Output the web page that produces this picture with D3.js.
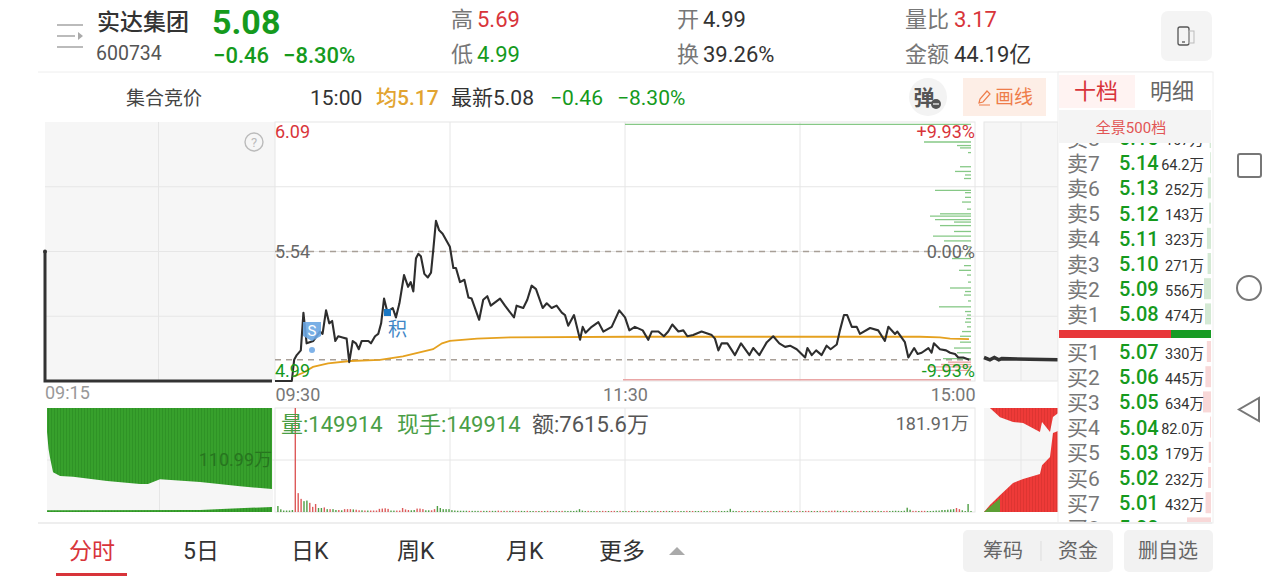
<!DOCTYPE html>
<html>
<head>
  <meta charset="utf-8">
  <title>实达集团 分时</title>
  <script src="https://d3js.org/d3.v7.min.js"></script>
  <style>
    html, body { margin: 0; padding: 0; background: #fff; overflow: hidden; }
    svg { display: block; }
    text { font-family: Roboto, "Noto Sans CJK SC", sans-serif; }
  </style>
</head>
<body>
<script>
// intraday price, minutes after 09:30
var priceMinutes = [0,5.8,6.6,7.5,8.9,9.8,10.9,13.2,15.5,16.4,17.6,18.7,19.7,20.8,21.8,23.3,24.7,25.6,26.8,27.9,28.9,29.9,32.2,33.1,34.5,35.6,36.6,37.6,38.7,40.6,41.7,42.9,44.5,45.9,46.8,47.7,48.6,49.4,50.3,51.5,52.7,53.8,54.6,55.5,56.6,57.8,60.3,61.5,62.4,63.8,65.3,66.7,67.8,70.4,71.8,73.2,74.4,77.6,79.3,82.4,83.3,85.6,87,88.5,90,92.3,93.7,95.4,97.1,98.9,100,101.1,103.1,105.2,106.1,107.1,109.2,111.5,113.2,116.1,118.7,120.7,122.2,124.1,126.8,128.7,129.9,132.2,134.1,135.6,137,139.1,140.8,142.2,144.2,147.1,150.6,151.7,152.9,154,156,158.6,160.7,163.6,164.9,167,169.6,171.8,173.9,175.9,177.6,179.9,182.8,183.6,185.1,186.6,188.5,190.2,191.6,193.7,194.8,196.2,197.3,198.9,200.6,201.7,205.2,208,210.3,211.5,213.8,214.6,217.2,218.4,220.4,221.6,223,225.3,226.4,227.2,229.3,231.4,232.8,234.5,235.6,237.3,239.4];
var prices = [4.99,4.99,5.08,5.10,5.12,5.28,5.15,5.16,5.20,5.19,5.29,5.235,5.245,5.16,5.18,5.175,5.17,5.07,5.16,5.15,5.125,5.16,5.16,5.15,5.18,5.19,5.235,5.34,5.285,5.30,5.26,5.32,5.44,5.39,5.41,5.37,5.51,5.53,5.52,5.445,5.43,5.45,5.55,5.67,5.63,5.615,5.56,5.47,5.47,5.41,5.42,5.345,5.34,5.25,5.335,5.35,5.31,5.34,5.31,5.26,5.31,5.30,5.335,5.395,5.38,5.30,5.32,5.30,5.31,5.28,5.27,5.225,5.27,5.165,5.22,5.195,5.22,5.24,5.20,5.22,5.29,5.26,5.205,5.22,5.205,5.165,5.20,5.20,5.18,5.20,5.23,5.20,5.205,5.18,5.185,5.20,5.185,5.17,5.12,5.15,5.15,5.10,5.15,5.10,5.13,5.10,5.155,5.18,5.15,5.135,5.14,5.125,5.09,5.13,5.10,5.12,5.10,5.14,5.125,5.145,5.205,5.27,5.27,5.22,5.22,5.19,5.215,5.205,5.16,5.22,5.19,5.20,5.155,5.09,5.13,5.105,5.11,5.13,5.11,5.15,5.125,5.12,5.11,5.105,5.09,5.09,5.08];

var avgMinutes = [6.6,9.7,13.1,18.3,25.9,36.2,44.1,54.5,57.6,60.3,69.7,81,122.4,164.8,222.4,229.3,232.8,239.3];
var avgPrices = [5.01,5.025,5.05,5.065,5.075,5.08,5.095,5.125,5.15,5.16,5.17,5.175,5.178,5.178,5.178,5.175,5.17,5.168];

// per minute volume in 万, positive is red, negative is green
var volumes = [
  -10.5,-4.7,-2.6,-2.6,-2.6,-3.5,181.91,33,23,-19,-20,16,9,14,-7,-7,8,-5,5,-5,
  -3.5,3.5,-3,5,5,5,-4.5,4,3,-3,2.6,-2.6,2.6,2.6,2.6,5.5,6,6.5,5.5,-2.6,
  -2.5,2.5,2.5,7,4.5,3.5,-3,-3.5,6,6,5,-3,-3,3,5,-10.5,-7,-5,-5,-5,
  -3.2,-2.6,-2.2,-2.2,-2.2,-2.2,2,-2,-2,-2,2,-2,-2,2,-2,-2,2.4,2,-2,2,
  -2,-2,2,2,-2,-1.8,2,-1.8,-1.8,1.8,-1.8,1.8,-1.8,2,-1.8,-1.8,2,-1.8,2,-2,
  -1.8,-2,-1.8,-2.4,-5,-2.4,-1.8,2,-1.8,-1.8,1.8,-1.8,2,1.8,-1.8,1.8,2,-1.8,2,-1.8,
  -1.8,1.8,-1.8,-1.8,2,-1.8,-1.8,1.8,-2,-1.8,2,-1.8,1.8,-1.8,2,-1.8,-1.8,2,1.8,-1.8,
  -1.8,2,-1.8,1.8,-1.8,-1.8,2,-1.8,-1.8,1.8,-1.8,-1.8,2,-1.8,-1.8,-2,-5.5,-2,-1.8,1.8,
  -1.8,1.8,-1.8,-1.8,2,-1.8,2,-1.8,1.8,-1.8,2,-1.8,-1.8,2,1.8,-1.8,2,-1.8,1.8,-1.8,
  1.8,-1.8,2,2,-1.8,1.8,-1.8,2,1.8,-1.8,2,2.2,2.4,-2.2,-1.8,2.2,2,-1.8,2,-1.8,
  1.8,2,-1.8,1.8,-1.8,2,-1.8,2,-1.8,1.8,2,-1.8,-2,-2.2,-2,-1.8,-2.2,-7.5,-4,2,
  2,-1.8,2,2,-1.8,-1.8,-2,-2.5,-2.5,-3.5,-3.5,-4,-4.5,-5,7,5,-3,-1.8,-14,-1.8
];

// traded volume by price level on the right edge of the chart
var profilePrices = [6.08,6.005,5.99,5.98,5.96,5.90,5.88,5.865,5.85,5.80,5.79,5.77,5.75,5.72,5.70,5.69,5.675,5.665,5.65,5.625,5.605,5.585,5.56,5.53,5.51,5.48,5.46,5.44,5.41,5.385,5.37,5.355,5.33,5.305,5.285,5.27,5.255,5.24,5.22,5.20,5.18,5.155,5.13,5.11,5.085];
var profileVolumes = [346,47,14,11,3,11,16,6,7,36,6,6,9,4,31,41,36,17,31,17,38,27,3,5,19,7,12,4,3,21,6,7,3,32,6,4,5,6,4,9,11,11,17,14,28];
var profileRedPrices = [5.07,5.06,5.05,5.035,4.995];
var profileRedVolumes = [23,30,42,35,348];

// call auction 09:15 - 09:25
var auctionMinutes = [0,0,10];
var auctionPrices = [5.54,4.99,4.99];
var auctionVolMinutes = [0,0.07,0.13,0.27,0.58,1.16,2.67,4.13,4.49,5.02,6.8,8.58,10];
var auctionUnmatched = [171,134,117,85,77,75,66,60,60,70,64,55,49];
var auctionMatchedMinutes = [0,6.8,8,10];
var auctionMatched = [4,4.5,7,10.7];

// closing auction panel
var closeMinutes = [0,0.4,0.7,1,1.2,5];
var closePrices = [5.09,5.08,5.09,5.08,5.085,5.08];
var closeVolMinutes = [0,0.4,1.08,1.96,2.64,3.78,3.92,4.46,4.66,5];
var closeUpper = [100,100,91,86.5,85.5,77,86.5,77,91.3,95];
var closeLower = [0,6.7,16,28,31.7,36.5,45,53,76,78];
var closeGreenMinutes = [0,0.4,1.08];
var closeGreen = [0,5,13];

// order book
var sellNames = ["卖8","卖7","卖6","卖5","卖4","卖3","卖2","卖1"];
var sellPrices = ["5.15","5.14","5.13","5.12","5.11","5.10","5.09","5.08"];
var sellVolumes = [107,64.2,252,143,323,271,556,474];
var buyNames = ["买1","买2","买3","买4","买5","买6","买7","买8"];
var buyPrices = ["5.07","5.06","5.05","5.04","5.03","5.02","5.01","5.00"];
var buyVolumes = [330,445,634,82,179,232,432,1900];
var buyLabels = ["330万","445万","634万","82.0万","179万","232万","432万",""];
var sellLabels = ["107万","64.2万","252万","143万","323万","271万","556万","474万"];

var timeTicks = [0,120,240];
var timeLabels = ["09:30","11:30","15:00"];
var priceTicks = [4.99,5.54,6.09];
var percentTicks = [-9.93,0,9.93];
var tabNames = ["分时","5日","日K","周K","月K","更多"];

var RED = "#d8343a", GREEN = "#159a1d", GREY = "#777", DARK = "#333", GRID = "#e6e6e6";

var svg = d3.select("body").append("svg").attr("width", 1280).attr("height", 576);

function label(s, x, y, size, fill, opts) {
  opts = opts || {};
  return svg.append("text").text(s).attr("x", x).attr("y", y)
    .attr("font-size", size).attr("fill", fill)
    .attr("text-anchor", opts.anchor || "start")
    .attr("font-weight", opts.weight || 400);
}

// scales
var gridX = d3.scaleLinear().domain([0,240]).range([275,975]);
var lineX = d3.scaleLinear().domain([0,240]).range([275,971]);
var priceY = d3.scaleLinear().domain([4.99,6.09]).range([381,122]);
var percentY = d3.scaleLinear().domain([-9.93,9.93]).range([381,122]);
var volumeY = d3.scaleLinear().domain([0,181.91]).range([512,408]);
var profileX = d3.scaleLinear().domain([0,348]).range([971,623]);
var auctionX = d3.scaleLinear().domain([0,10]).range([45,272]);
var auctionVolX = d3.scaleLinear().domain([0,10]).range([47,272]);
var auctionVolY = d3.scaleLinear().domain([0,221.98]).range([512,408]);
var closeX = d3.scaleLinear().domain([0,5]).range([984,1058]);
var closeVolY = d3.scaleLinear().domain([0,100]).range([512,408]);
var bookW = d3.scaleLinear().domain([0,634]).range([0,8]);

// striped fills for the auction columns
var defs = svg.append("defs");
[["stripeGreen","#37a02c","#2d9024"],["stripeRed","#ee3a38","#d93330"]].forEach(function(p) {
  var pat = defs.append("pattern").attr("id", p[0]).attr("width", 3).attr("height", 10)
    .attr("patternUnits", "userSpaceOnUse");
  pat.append("rect").attr("width", 3).attr("height", 10).attr("fill", p[1]);
  pat.append("rect").attr("width", 0.8).attr("height", 10).attr("fill", p[2]);
});

// panels
var panels = [[45,122,230,259],[984,122,74,259],[47,408,226,104],[984,408,74,104]];
svg.selectAll("rect.panel").data(panels).enter().append("rect")
  .attr("class", "panel")
  .attr("x", function(d){ return d[0]; }).attr("y", function(d){ return d[1]; })
  .attr("width", function(d){ return d[2]; }).attr("height", function(d){ return d[3]; })
  .attr("fill", "#f6f6f6");
svg.append("rect").attr("x", 275).attr("y", 122).attr("width", 700).attr("height", 259)
  .attr("fill", "#fff").attr("stroke", GRID);
svg.append("rect").attr("x", 275).attr("y", 408).attr("width", 700).attr("height", 104)
  .attr("fill", "#fff").attr("stroke", GRID);

// grid
var gridG = svg.append("g").attr("stroke", GRID).attr("stroke-width", 1);
[5.815,5.54,5.265].forEach(function(p) {
  gridG.append("line").attr("x1", 45).attr("x2", 1058).attr("y1", priceY(p)).attr("y2", priceY(p));
});
gridG.append("line").attr("x1", 47).attr("x2", 1058).attr("y1", 460).attr("y2", 460);
[60,120,180].forEach(function(m) {
  gridG.append("line").attr("x1", gridX(m)).attr("x2", gridX(m)).attr("y1", 122).attr("y2", 381);
  gridG.append("line").attr("x1", gridX(m)).attr("x2", gridX(m)).attr("y1", 408).attr("y2", 512);
});
[[auctionX(5),122,381],[auctionVolX(5),408,512],[closeX(2.5),122,381],[closeX(2.5),408,512]].forEach(function(d) {
  gridG.append("line").attr("x1", d[0]).attr("x2", d[0]).attr("y1", d[1]).attr("y2", d[2]);
});
gridG.append("rect").attr("x", 984).attr("y", 122).attr("width", 74).attr("height", 259).attr("fill", "none");

// dashed reference lines, previous close and latest price
[[5.54],[5.08]].forEach(function(d) {
  svg.append("line").attr("x1", 275).attr("x2", 971)
    .attr("y1", priceY(d[0])).attr("y2", priceY(d[0]))
    .attr("stroke", "#a89f97").attr("stroke-width", 1.5).attr("stroke-dasharray", "6 5");
});

// volume by price
svg.append("g").selectAll("line").data(d3.zip(profilePrices, profileVolumes)).enter().append("line")
  .attr("x1", function(d){ return profileX(d[1]); }).attr("x2", profileX(0))
  .attr("y1", function(d){ return priceY(d[0]); }).attr("y2", function(d){ return priceY(d[0]); })
  .attr("stroke", "#86c886").attr("stroke-width", 1.3);
svg.append("g").selectAll("line").data(d3.zip(profileRedPrices, profileRedVolumes)).enter().append("line")
  .attr("x1", function(d){ return profileX(d[1]); }).attr("x2", profileX(0))
  .attr("y1", function(d){ return priceY(d[0]); }).attr("y2", function(d){ return priceY(d[0]); })
  .attr("stroke", "#eaa6a6").attr("stroke-width", 1.4);

// price and average lines
var priceLine = d3.line().x(function(d){ return lineX(d[0]); }).y(function(d){ return priceY(d[1]); });
svg.append("path").datum(d3.zip(avgMinutes, avgPrices)).attr("d", priceLine)
  .attr("fill", "none").attr("stroke", "#e5a11f").attr("stroke-width", 1.8);
svg.append("path").datum(d3.zip(priceMinutes, prices)).attr("d", priceLine)
  .attr("fill", "none").attr("stroke", "#2e2e2e").attr("stroke-width", 2.1)
  .attr("stroke-linejoin", "round");

// call auction lines
var auctionLine = d3.line().x(function(d){ return auctionX(d[0]); }).y(function(d){ return priceY(d[1]); });
svg.append("path").datum(d3.zip(auctionMinutes, auctionPrices)).attr("d", auctionLine)
  .attr("fill", "none").attr("stroke", "#333").attr("stroke-width", 3);
svg.append("circle").attr("cx", auctionX(0)).attr("cy", priceY(5.54)).attr("r", 2).attr("fill", "#333");
var closeLine = d3.line().x(function(d){ return closeX(d[0]); }).y(function(d){ return priceY(d[1]); });
svg.append("path").datum(d3.zip(closeMinutes, closePrices)).attr("d", closeLine)
  .attr("fill", "none").attr("stroke", "#333").attr("stroke-width", 3.6);

// volume bars
svg.append("g").selectAll("rect").data(volumes).enter().append("rect")
  .attr("x", function(d,i){ return lineX(i + 1) - 0.7; })
  .attr("width", 1.4)
  .attr("y", function(d){ return volumeY(Math.abs(d)); })
  .attr("height", function(d){ return volumeY(0) - volumeY(Math.abs(d)); })
  .attr("fill", function(d){ return d > 0 ? "#dd5a5a" : "#4f9e45"; });

// call auction volume
var auctionTop = d3.area()
  .x(function(d){ return auctionVolX(d[0]); })
  .y0(408).y1(function(d){ return auctionVolY(d[1]); });
svg.append("path").datum(d3.zip(auctionVolMinutes, auctionUnmatched)).attr("d", auctionTop)
  .attr("fill", "url(#stripeGreen)");
var auctionBottom = d3.area()
  .x(function(d){ return auctionVolX(d[0]); })
  .y0(512).y1(function(d){ return auctionVolY(d[1]); });
svg.append("path").datum(d3.zip(auctionMatchedMinutes, auctionMatched)).attr("d", auctionBottom)
  .attr("fill", "url(#stripeGreen)");

var closeTop = d3.area().x(function(d){ return closeX(d[0]); }).y0(408).y1(function(d){ return closeVolY(d[1]); });
var closeBottom = d3.area().x(function(d){ return closeX(d[0]); }).y0(512).y1(function(d){ return closeVolY(d[1]); });
svg.append("path").datum(d3.zip(closeVolMinutes, closeUpper)).attr("d", closeTop).attr("fill", "url(#stripeRed)");
svg.append("path").datum(d3.zip(closeVolMinutes, closeLower)).attr("d", closeBottom).attr("fill", "url(#stripeRed)");
svg.append("path").datum(d3.zip(closeGreenMinutes, closeGreen)).attr("d", closeBottom).attr("fill", "#5c9e35");

// axes
var timeAxis = d3.axisBottom(gridX).tickValues(timeTicks).tickSize(0)
  .tickFormat(function(d,i){ return timeLabels[i]; });
var timeG = svg.append("g").attr("transform", "translate(0,381)").call(timeAxis);
timeG.select(".domain").remove();
timeG.selectAll("text").attr("font-size", 18).attr("fill", GREY).attr("dy", 17)
  .attr("font-family", "Roboto")
  .attr("text-anchor", function(d,i){ return ["start","middle","end"][i]; });
label("09:15", 45, 399, 18, "#999");

var priceAxis = d3.axisRight(priceY).tickValues(priceTicks).tickSize(0)
  .tickFormat(function(d){ return d.toFixed(2); });
var priceG = svg.append("g").attr("transform", "translate(272,0)").call(priceAxis);
priceG.select(".domain").remove();
priceG.selectAll("text").attr("font-size", 18).attr("font-family", "Roboto")
  .attr("fill", function(d,i){ return [GREEN,"#666",RED][i]; })
  .attr("dy", function(d,i){ return [-5,6,15][i]; });

var percentAxis = d3.axisLeft(percentY).tickValues(percentTicks).tickSize(0)
  .tickFormat(function(d){ return d > 0 ? "+" + d.toFixed(2) + "%" : d.toFixed(2) + "%"; });
var percentG = svg.append("g").attr("transform", "translate(978,0)").call(percentAxis);
percentG.select(".domain").remove();
percentG.selectAll("text").attr("font-size", 18).attr("font-family", "Roboto")
  .attr("fill", function(d,i){ return [GREEN,"#666",RED][i]; })
  .attr("dy", function(d,i){ return [-5,6,15][i]; });

// signal markers on the chart
svg.append("path").attr("d", "M303 322h18v14l-9 5l-9-5z").attr("fill", "#6aa6e2").attr("opacity", 0.9);
label("S", 312, 336, 15, "#fff", {anchor: "middle"});
svg.append("circle").attr("cx", 312).attr("cy", 350).attr("r", 3).attr("fill", "#7fb2e8");
svg.append("rect").attr("x", 384).attr("y", 309).attr("width", 7).attr("height", 7).attr("fill", "#1a78c4");
label("积", 388, 336, 19, "#3f86c6");

// volume captions
var capGreen = "#4a9e46";
label("量:149914", 281, 432, 22, capGreen);
label("现手:149914", 397, 432, 22, capGreen);
label("额:7615.6万", 532, 432, 22, "#555");
label("181.91万", 969, 430, 18, "#666", {anchor: "end"});
label("110.99万", 272, 466, 18, "#27751f", {anchor: "end"});

// header
svg.append("g").attr("stroke", "#aaa").attr("stroke-width", 1.6).selectAll("line")
  .data([[57,83,25],[57,75,36],[57,83,47]]).enter().append("line")
  .attr("x1", function(d){ return d[0]; }).attr("x2", function(d){ return d[1]; })
  .attr("y1", function(d){ return d[2]; }).attr("y2", function(d){ return d[2]; });
svg.append("path").attr("d", "M78 32l5 4l-5 4z").attr("fill", "#aaa");

label("实达集团", 97, 30, 23, DARK, {weight: 500});
label("600734", 96, 60, 19.5, "#555");
label("5.08", 212, 34, 34, GREEN, {weight: 700});
label("−0.46", 213, 63, 22, GREEN, {weight: 500});
label("−8.30%", 283, 63, 22, GREEN, {weight: 500});

label("高", 451, 27, 22, GREY); label("5.69", 477, 27, 22, RED);
label("低", 451, 62, 22, GREY); label("4.99", 477, 62, 22, GREEN);
label("开", 677, 27, 22, GREY); label("4.99", 703, 27, 22, DARK);
label("换", 677, 62, 22, GREY); label("39.26%", 703, 62, 22, DARK);
label("量比", 905, 27, 22, GREY); label("3.17", 954, 27, 22, RED);
label("金额", 905, 62, 22, GREY); label("44.19亿", 954, 62, 22, DARK);

svg.append("rect").attr("x", 1161).attr("y", 11).attr("width", 51).attr("height", 50).attr("rx", 7).attr("fill", "#f4f4f4");
svg.append("rect").attr("x", 1178).attr("y", 27).attr("width", 11).attr("height", 18).attr("rx", 2)
  .attr("fill", "none").attr("stroke", "#555").attr("stroke-width", 1.3);
svg.append("rect").attr("x", 1189).attr("y", 31).attr("width", 5).attr("height", 12)
  .attr("fill", "none").attr("stroke", "#bbb").attr("stroke-width", 1);
svg.append("line").attr("x1", 1182).attr("x2", 1185).attr("y1", 42).attr("y2", 42).attr("stroke", "#555").attr("stroke-width", 1.3);

svg.append("line").attr("x1", 38).attr("x2", 1212).attr("y1", 72).attr("y2", 72).attr("stroke", "#eee");

label("集合竞价", 126, 105, 19, "#444");
label("15:00", 310, 105, 21, DARK);
label("均5.17", 376, 105, 21, "#e2a431", {weight: 500});
label("最新5.08", 451, 105, 21, DARK);
label("−0.46", 550, 105, 21, GREEN);
label("−8.30%", 617, 105, 21, GREEN);

svg.append("circle").attr("cx", 928).attr("cy", 97).attr("r", 19).attr("fill", "#f3f3f3");
label("弹", 924, 105, 21, "#555", {anchor: "middle", weight: 700});
svg.append("circle").attr("cx", 936).attr("cy", 104).attr("r", 5).attr("fill", "#555");
svg.append("line").attr("x1", 933).attr("x2", 939).attr("y1", 104).attr("y2", 104).attr("stroke", "#fff").attr("stroke-width", 1.2);

svg.append("rect").attr("x", 963).attr("y", 78).attr("width", 83).attr("height", 38).attr("fill", "#fdeee6");
svg.append("path").attr("d", "M979 103l1-4l7-8l3 3l-7 8zM979 105h11").attr("fill", "none").attr("stroke", "#ee7d4a").attr("stroke-width", 1.2);
label("画线", 995, 104, 19, "#ee7d4a");

svg.append("circle").attr("cx", 254).attr("cy", 142).attr("r", 9).attr("fill", "none").attr("stroke", "#bbb").attr("stroke-width", 1.4);
label("?", 254, 147, 13, "#bbb", {anchor: "middle"});

// order book panel
svg.append("rect").attr("x", 1058).attr("y", 72).attr("width", 155).attr("height", 451).attr("fill", "#fff").attr("stroke", "#eee");
svg.append("rect").attr("x", 1059).attr("y", 75).attr("width", 76).attr("height", 33).attr("fill", "#fff3f2");
label("十档", 1096, 99, 22, RED, {anchor: "middle"});
label("明细", 1172, 99, 22, "#666", {anchor: "middle"});

var bookClip = defs.append("clipPath").attr("id", "bookClip");
bookClip.append("rect").attr("x", 1058).attr("y", 143).attr("width", 154).attr("height", 379);
var book = svg.append("g").attr("clip-path", "url(#bookClip)");

function bookRows(names, priceText, vols, volText, y0, barFill) {
  var rows = book.selectAll(null).data(names).enter().append("g")
    .attr("transform", function(d,i){ return "translate(0," + (y0 + i * 25.2) + ")"; });
  rows.append("rect")
    .attr("x", function(d,i){ return 1211 - bookW(vols[i]); })
    .attr("y", -11).attr("height", 21)
    .attr("width", function(d,i){ return bookW(vols[i]); })
    .attr("fill", barFill);
  rows.append("text").text(function(d){ return d; }).attr("x", 1067).attr("y", 7.5)
    .attr("font-size", 21).attr("fill", "#777");
  rows.append("text").text(function(d,i){ return priceText[i]; }).attr("x", 1119).attr("y", 7)
    .attr("font-size", 20).attr("font-weight", 500).attr("fill", GREEN);
  rows.append("text").text(function(d,i){ return volText[i]; }).attr("x", 1204).attr("y", 6.5)
    .attr("font-size", 14.5).attr("text-anchor", "end").attr("fill", "#333");
}
bookRows(sellNames, sellPrices, sellVolumes, sellLabels, 138, "#d4e9d4");
bookRows(buyNames, buyPrices, buyVolumes, buyLabels, 352, "#f8d8d8");

svg.append("rect").attr("x", 1059).attr("y", 110).attr("width", 152).attr("height", 33).attr("fill", "#f4f4f4");
label("全景500档", 1131, 133, 15, "#e25555", {anchor: "middle"});

svg.append("rect").attr("x", 1059).attr("y", 330).attr("width", 112).attr("height", 8).attr("fill", "#e8373a");
svg.append("rect").attr("x", 1171).attr("y", 330).attr("width", 40).attr("height", 8).attr("fill", "#179b24");

// bottom tabs
svg.append("line").attr("x1", 38).attr("x2", 1212).attr("y1", 523).attr("y2", 523).attr("stroke", "#eee").attr("stroke-width", 2);
var tabX = [69,183,291,397,506,599];
tabNames.forEach(function(t, i) {
  label(t, tabX[i], 559, 23, i === 0 ? RED : DARK);
});
svg.append("rect").attr("x", 56).attr("y", 573).attr("width", 71).attr("height", 3).attr("fill", RED);
svg.append("path").attr("d", "M669 555l8-8l8 8z").attr("fill", "#aaa");

svg.append("rect").attr("x", 963).attr("y", 530).attr("width", 150).attr("height", 42).attr("rx", 5).attr("fill", "#f2f2f2");
svg.append("rect").attr("x", 1124).attr("y", 530).attr("width", 89).attr("height", 42).attr("rx", 5).attr("fill", "#f2f2f2");
svg.append("line").attr("x1", 1041).attr("x2", 1041).attr("y1", 541).attr("y2", 561).attr("stroke", "#ddd");
label("筹码", 1003, 558, 20, "#666", {anchor: "middle"});
label("资金", 1078, 558, 20, "#666", {anchor: "middle"});
label("删自选", 1168, 558, 20, "#666", {anchor: "middle"});

// system navigation buttons
svg.append("rect").attr("x", 1238).attr("y", 154).attr("width", 23).attr("height", 23).attr("rx", 2)
  .attr("fill", "none").attr("stroke", "#777").attr("stroke-width", 2);
svg.append("circle").attr("cx", 1249).attr("cy", 288).attr("r", 12).attr("fill", "none").attr("stroke", "#777").attr("stroke-width", 2);
svg.append("path").attr("d", "M1259 398v23l-20-11.5z").attr("fill", "none").attr("stroke", "#777").attr("stroke-width", 2);
</script>
</body>
</html>
